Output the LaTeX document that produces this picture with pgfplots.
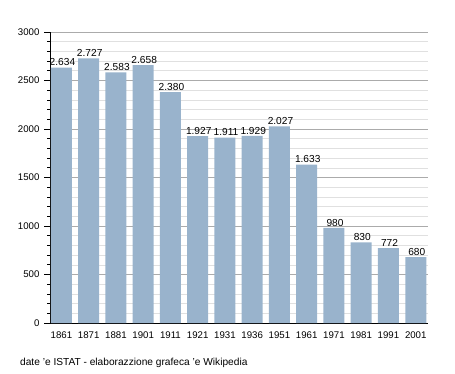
\documentclass[border=0pt]{standalone}
\usepackage{pgfplots}
\pgfplotsset{compat=1.18}
\usepackage{fontspec}
\setmainfont{Liberation Sans}
\definecolor{barblue}{HTML}{99B3CC}
\definecolor{majgrid}{HTML}{ABABAB}
\definecolor{mingrid}{HTML}{E0E0E0}
\begin{document}
\begin{tikzpicture}[x=1bp,y=1bp]
\useasboundingbox (0,0) rectangle (455,373);
\begin{axis}[
  at={(50bp,50bp)}, anchor=south west,
  scale only axis, width=378bp, height=291bp,
  xmin=-0.42, xmax=13.45, ymin=0, ymax=3000,
  axis lines*=left,
  axis line style={black, line width=1pt, -},
  ytick={0,500,...,3000},
  minor y tick num=4,
  ymajorgrids, yminorgrids,
  major grid style={majgrid, line width=0.6pt},
  minor grid style={mingrid, line width=0.6pt},
  tick align=outside,
  major tick length=6bp, minor tick length=3bp,
  ytick style={black, line width=0.8pt},
  xtick=data, xtick style={draw=none},
  xticklabels={1861,1871,1881,1901,1911,1921,1931,1936,1951,1961,1971,1981,1991,2001},
  font=\fontsize{9.7}{11}\selectfont,
  /pgf/number format/assume math mode=true,
  yticklabel style={/pgf/number format/1000 sep={}, xshift=-1bp},
  xticklabel style={yshift=1bp},
  ybar, bar width=21bp,
  nodes near coords,
  every node near coord/.append style={font=\fontsize{10.2}{11}\selectfont, inner sep=1.5bp, xshift=1bp, /pgf/number format/1000 sep={.}},
]
\addplot[fill=barblue, draw=none] coordinates {
(0,2634) (1,2727) (2,2583) (3,2658) (4,2380) (5,1927) (6,1911) (7,1929) (8,2027) (9,1633) (10,980) (11,830) (12,772) (13,680)};
\end{axis}
\node[anchor=base west, font=\fontsize{10.2}{11}\selectfont, inner sep=0] at (20,8) {date 'e ISTAT - elaborazzione grafeca 'e Wikipedia};
\end{tikzpicture}
\end{document}
